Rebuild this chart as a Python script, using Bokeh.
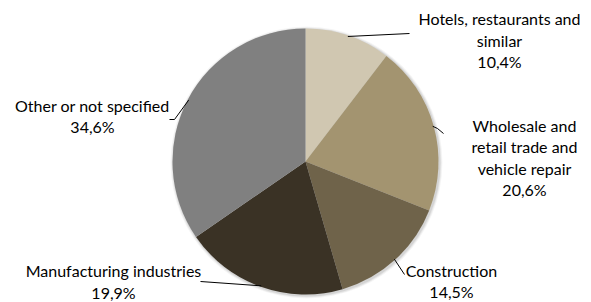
import math
from bokeh.plotting import figure
from bokeh.models import Range1d
from bokeh.core.properties import value
from bokeh.embed import file_html
from bokeh.resources import INLINE

categories = ["Hotels, restaurants and\nsimilar",
              "Wholesale and\nretail trade and\nvehicle repair",
              "Construction",
              "Manufacturing industries",
              "Other or not specified"]
shares = [10.4, 20.6, 14.5, 19.9, 34.6]
colors = ["#D0C7B1", "#A39470", "#6F634A", "#3A3225", "#808080"]

# layout (page pixel coordinates)
CX, CY, R = 305, 161, 133
label_pos = [(499, 39.5), (524, 157), (451, 280.5), (113, 281), (92, 115.5)]
leader_ends = [[(409, 33)], [(437, 128), (443, 133)], [(404, 274)], [(200, 281)], [(174, 119), (169, 119)]]
LINE_SP = 21.5

W, H = 591, 302
p = figure(width=W, height=H, output_backend="svg", toolbar_location=None,
           x_range=Range1d(0, W), y_range=Range1d(0, H), min_border=0)
p.axis.visible = False
p.grid.visible = False
p.outline_line_color = None

def Y(py):
    return H - py

total = sum(shares)
# soft shadow
for dr, a in [(3, 0.04), (2, 0.06), (1, 0.08)]:
    p.circle(x=[CX + 1], y=[Y(CY + 1)], radius=R + dr, fill_color="#000000",
             fill_alpha=a, line_color=None)

cum = 0.0
starts, ends, mids = [], [], []
for s in shares:
    a0 = math.pi / 2 - 2 * math.pi * cum / total
    cum += s
    a1 = math.pi / 2 - 2 * math.pi * cum / total
    starts.append(a0)
    ends.append(a1)
    mids.append((a0 + a1) / 2)

p.wedge(x=[CX] * len(shares), y=[Y(CY)] * len(shares), radius=R,
        start_angle=starts, end_angle=ends, direction="clock",
        fill_color=colors, line_color=None)

for m, pts in zip(mids, leader_ends):
    sx = CX + (R - 1) * math.cos(m)
    sy = CY - (R - 1) * math.sin(m)
    xs = [sx] + [q[0] for q in pts]
    ys = [Y(sy)] + [Y(q[1]) for q in pts]
    p.line(xs, ys, line_color="#000000", line_width=1)

tx, ty, tt = [], [], []
for c, s, (lx, ly) in zip(categories, shares, label_pos):
    lines = c.split("\n") + [("%.1f" % s).replace(".", ",") + "%"]
    n = len(lines)
    for i, ln in enumerate(lines):
        tx.append(lx)
        ty.append(Y(ly + (i - (n - 1) / 2) * LINE_SP))
        tt.append(ln)
p.text(x=tx, y=ty, text=tt, text_align="center", text_baseline="middle",
       text_font=value("Lato"), text_font_size="16px", text_color="#000000")

open("out.html", "w").write(file_html(p, INLINE))
